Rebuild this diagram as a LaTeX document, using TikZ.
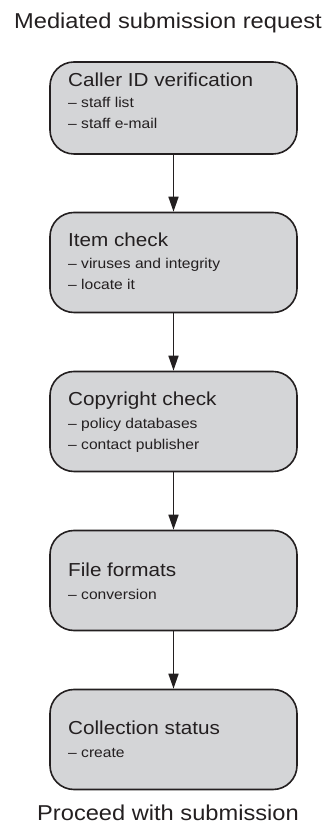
\documentclass[tikz,border=0pt]{standalone}
\usepackage{fontspec}
\setmainfont[FakeStretch=1.1]{Liberation Sans}
\usetikzlibrary{arrows.meta}
\definecolor{ink}{RGB}{35,31,32}
\definecolor{boxfill}{RGB}{212,213,215}
\begin{document}
\begin{tikzpicture}[x=1pt,y=1pt,
  stepbox/.style={draw=ink, fill=boxfill, line width=1.6pt, rounded corners=24pt,
    minimum width=247pt, minimum height=100pt, inner sep=0pt},
  headtext/.style={anchor=base west, inner sep=0pt, text=ink, font=\fontsize{18.8}{22}\selectfont},
  subtext/.style={anchor=base west, inner sep=0pt, text=ink, font=\fontsize{14.2}{17}\selectfont},
  endtext/.style={anchor=base, inner sep=0pt, text=ink, font=\fontsize{21.5}{25}\selectfont},
  flow/.style={draw=ink, line width=1.6pt, -{Triangle[length=15pt,width=10pt]}}]
\useasboundingbox (0,0) rectangle (326,827);

\node[endtext] (top) at (168,798.7) {Mediated submission request};

\node[stepbox, minimum height=92pt] (b1) at (173.5,719) {};
\node[stepbox] (b2) at (173.5,564.5) {};
\node[stepbox] (b3) at (173.5,405.5) {};
\node[stepbox] (b4) at (173.5,246.5) {};
\node[stepbox] (b5) at (173.5,87.5) {};

\node[headtext] (h1) at (68,740) {Caller ID verification};
\node[subtext] (s11) at (68,719) {– staff list};
\node[subtext] (s12) at (68,698) {– staff e-mail};

\node[headtext] (h2) at (68,580) {Item check};
\node[subtext] (s21) at (68,558) {– viruses and integrity};
\node[subtext] (s22) at (68,537) {– locate it};

\node[headtext] (h3) at (68,421) {Copyright check};
\node[subtext] (s31) at (68,398) {– policy databases};
\node[subtext] (s32) at (68,377) {– contact publisher};

\node[headtext] (h4) at (68,250) {File formats};
\node[subtext] (s41) at (68,227) {– conversion};

\node[headtext] (h5) at (68,92) {Collection status};
\node[subtext] (s51) at (68,69) {– create};

\node[endtext] (bottom) at (168,6) {Proceed with submission};

\draw[flow] (b1.south) -- (b2.north);
\draw[flow] (b2.south) -- (b3.north);
\draw[flow] (b3.south) -- (b4.north);
\draw[flow] (b4.south) -- (b5.north);
\end{tikzpicture}
\end{document}
